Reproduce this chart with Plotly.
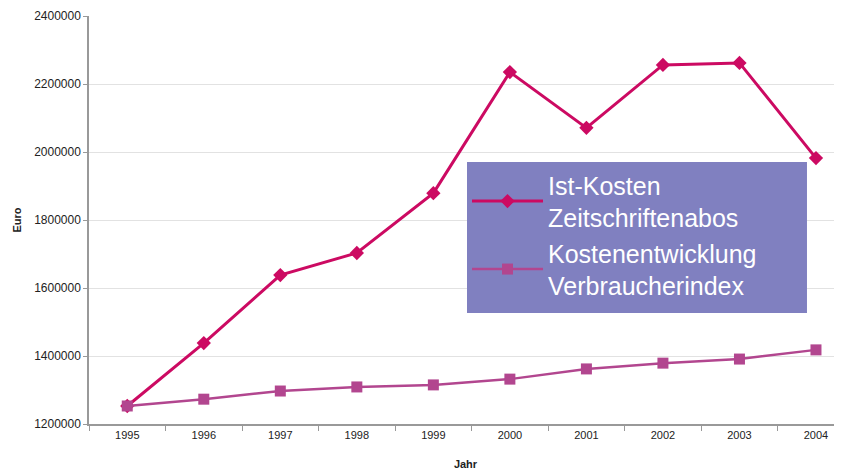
import plotly.graph_objects as go

years = ["1995", "1996", "1997", "1998", "1999", "2000", "2001", "2002", "2003", "2004"]
ist_kosten = [1253000, 1438000, 1638000, 1703000, 1879000, 2235000, 2071000, 2256000, 2262000, 1982000]
verbraucherindex = [1253000, 1273000, 1297000, 1309000, 1315000, 1332000, 1362000, 1379000, 1391000, 1418000]
name1 = "Ist-Kosten<br>Zeitschriftenabos"
name2 = "Kostenentwicklung<br>Verbraucherindex"

fig = go.Figure()
fig.add_trace(go.Scatter(
    x=years, y=ist_kosten, name=name1, mode="lines+markers",
    line=dict(color="#CC0A62", width=3),
    marker=dict(symbol="diamond", size=11, color="#CC0A62"),
))
fig.add_trace(go.Scatter(
    x=years, y=verbraucherindex, name=name2, mode="lines+markers",
    line=dict(color="#B2468F", width=2.5),
    marker=dict(symbol="square", size=11, color="#B2468F"),
))

# legend background box (paper coordinates)
fig.add_shape(type="rect", xref="paper", yref="paper",
              x0=0.502, x1=0.9535, y0=0.272, y1=0.642,
              fillcolor="#8080C0", line=dict(width=0), layer="above")

axis_font = dict(family="Liberation Sans, Arial", size=11, color="#222222")
fig.update_layout(
    width=842, height=471,
    margin=dict(l=81, r=8, t=8, b=55),
    paper_bgcolor="white", plot_bgcolor="white",
    showlegend=True,
    legend=dict(
        x=0.502, y=0.642, xanchor="left", yanchor="top",
        bgcolor="rgba(0,0,0,0)", borderwidth=0,
        font=dict(family="Liberation Sans, Arial", size=25, color="white"),
        itemwidth=71,
    ),
    xaxis=dict(
        type="category", range=[-0.5, 9.34], automargin=False,
        tickson="boundaries", ticks="outside", ticklen=5, tickcolor="#999999",
        showline=True, linecolor="#999999", linewidth=1.5,
        showgrid=False, tickfont=axis_font,
        title=dict(text="<b>Jahr</b>", font=dict(family="Liberation Sans, Arial", size=11, color="#222222"), standoff=20),
    ),
    yaxis=dict(
        range=[1200000, 2400000], dtick=200000, tickformat="d", automargin=False,
        ticks="outside", ticklen=4, tickcolor="#999999",
        showline=True, linecolor="#999999", linewidth=1.5,
        showgrid=True, gridcolor="#E2E2E2", gridwidth=1,
        tickfont=dict(family="Liberation Sans, Arial", size=12, color="#222222"), zeroline=False,
        title=dict(text="<b>Euro</b>", font=dict(family="Liberation Sans, Arial", size=11, color="#222222"), standoff=10),
    ),
)

fig.write_html("out.html")
